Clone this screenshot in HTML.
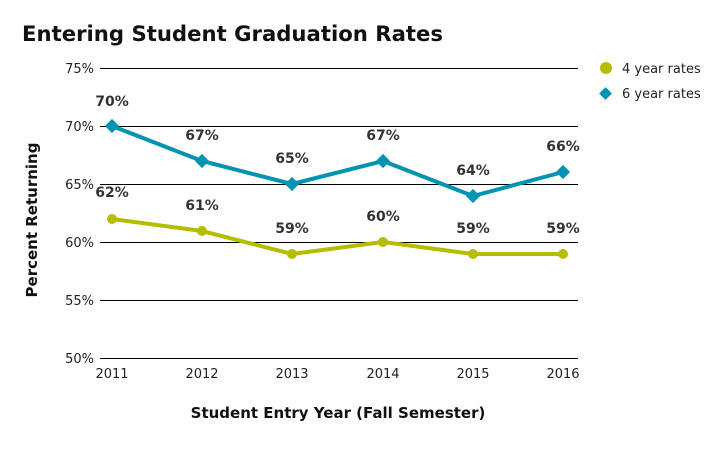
<!DOCTYPE html>
<html><head><meta charset="utf-8"><style>
body{margin:0;background:#fff;}
svg text{font-family:"DejaVu Sans","Liberation Sans",sans-serif;}
</style></head><body>
<svg width="720" height="445" xmlns="http://www.w3.org/2000/svg">
<text x="22" y="41" font-size="21" font-weight="bold" fill="#111" textLength="421" lengthAdjust="spacingAndGlyphs">Entering Student Graduation Rates</text>
<g stroke="#000" stroke-width="1">
<line x1="100" y1="68.5" x2="578" y2="68.5"/>
<line x1="100" y1="126.5" x2="578" y2="126.5"/>
<line x1="100" y1="184.5" x2="578" y2="184.5"/>
<line x1="100" y1="242.5" x2="578" y2="242.5"/>
<line x1="100" y1="300.5" x2="578" y2="300.5"/>
<line x1="100" y1="358.5" x2="578" y2="358.5"/>
</g>
<g font-size="13" fill="#222" text-anchor="end">
<text x="94" y="73">75%</text><text x="94" y="131">70%</text><text x="94" y="189">65%</text>
<text x="94" y="247">60%</text><text x="94" y="305">55%</text><text x="94" y="363">50%</text>
</g>
<g font-size="13" fill="#222" text-anchor="middle">
<text x="112" y="378">2011</text><text x="202" y="378">2012</text><text x="292" y="378">2013</text>
<text x="383" y="378">2014</text><text x="473" y="378">2015</text><text x="563" y="378">2016</text>
</g>
<text x="338" y="418" font-size="15" font-weight="bold" text-anchor="middle" fill="#111">Student Entry Year (Fall Semester)</text>
<text transform="translate(37,220) rotate(-90)" font-size="15" font-weight="bold" text-anchor="middle" fill="#111">Percent Returning</text>
<polyline points="112,219 202,231 292,254 383,242 473,254 563,254" fill="none" stroke="#b5bd00" stroke-width="4"/>
<g fill="#b5bd00">
<circle cx="112" cy="219" r="5"/><circle cx="202" cy="231" r="5"/><circle cx="292" cy="254" r="5"/>
<circle cx="383" cy="242" r="5"/><circle cx="473" cy="254" r="5"/><circle cx="563" cy="254" r="5"/>
</g>
<polyline points="112,126 202,161 292,184 383,161 473,196 563,172" fill="none" stroke="#0093b2" stroke-width="4"/>
<g fill="#0093b2">
<rect x="107" y="121" width="10" height="10" transform="rotate(45 112 126)"/>
<rect x="197" y="156" width="10" height="10" transform="rotate(45 202 161)"/>
<rect x="287" y="179" width="10" height="10" transform="rotate(45 292 184)"/>
<rect x="378" y="156" width="10" height="10" transform="rotate(45 383 161)"/>
<rect x="468" y="191" width="10" height="10" transform="rotate(45 473 196)"/>
<rect x="558" y="167" width="10" height="10" transform="rotate(45 563 172)"/>
</g>
<g font-size="14" font-weight="bold" fill="#333" text-anchor="middle">
<text x="112" y="106">70%</text><text x="202" y="140">67%</text><text x="292" y="163">65%</text>
<text x="383" y="140">67%</text><text x="473" y="175">64%</text><text x="563" y="151">66%</text>
<text x="112" y="197">62%</text><text x="202" y="210">61%</text><text x="292" y="233">59%</text>
<text x="383" y="221">60%</text><text x="473" y="233">59%</text><text x="563" y="233">59%</text>
</g>
<circle cx="606" cy="68" r="6" fill="#b5bd00"/>
<text x="622" y="73" font-size="13" fill="#222">4 year rates</text>
<rect x="601" y="89" width="9" height="9" transform="rotate(45 605.5 93.5)" fill="#0093b2"/>
<text x="622" y="98" font-size="13" fill="#222">6 year rates</text>
</svg>
</body></html>
